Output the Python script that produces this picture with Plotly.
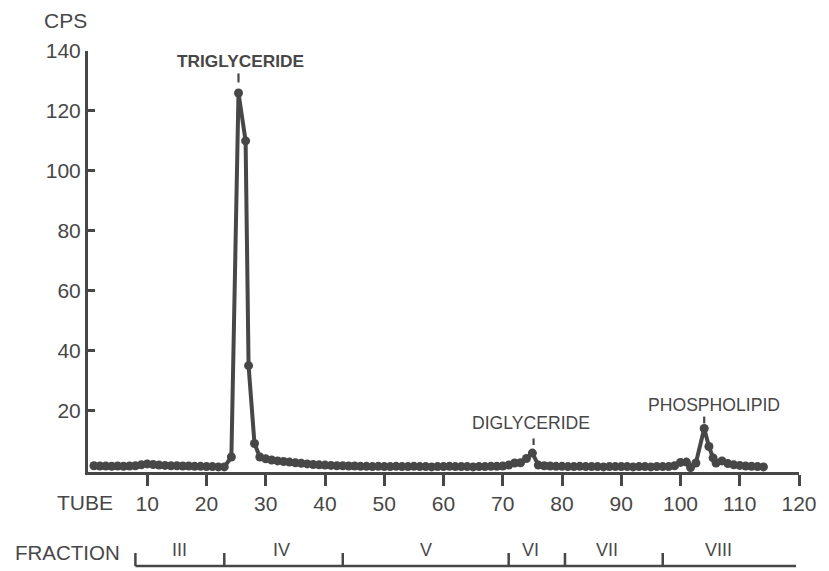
import plotly.graph_objects as go

# Radioactivity (counts per second) of each eluted tube
tube = [1, 2, 3, 4, 5, 6, 7, 8, 9, 10, 11, 12, 13, 14, 15, 16, 17, 18, 19, 20, 21, 22, 23,
        24.2, 25.4, 26.6, 27.1, 28.1,
        29, 30, 31, 32, 33, 34, 35, 36, 37, 38, 39, 40, 41, 42, 43, 44, 45, 46, 47, 48, 49, 50,
        51, 52, 53, 54, 55, 56, 57, 58, 59, 60, 61, 62, 63, 64, 65, 66, 67, 68, 69, 70,
        71, 72, 73, 74, 75, 76, 77, 78, 79, 80, 81, 82, 83, 84, 85, 86, 87, 88, 89, 90,
        91, 92, 93, 94, 95, 96, 97, 98, 99, 100, 101, 101.7, 102.6,
        104, 104.8, 105.5, 106, 107, 108, 109, 110, 111, 112, 113, 114]
cps = [1.6, 1.5, 1.5, 1.4, 1.5, 1.4, 1.5, 1.6, 1.9, 2.2, 2.0, 1.8, 1.7, 1.6, 1.6, 1.5, 1.5, 1.4, 1.4, 1.3, 1.3, 1.2, 1.2,
       4.5, 126, 110, 35, 9,
       4.5, 3.9, 3.5, 3.2, 3.0, 2.8, 2.6, 2.4, 2.2, 2.0, 1.9, 1.8, 1.7, 1.6, 1.6, 1.5, 1.5, 1.4, 1.4, 1.3, 1.4, 1.3,
       1.3, 1.4, 1.3, 1.3, 1.4, 1.3, 1.3, 1.2, 1.3, 1.3, 1.4, 1.3, 1.3, 1.3, 1.2, 1.3, 1.3, 1.4, 1.4, 1.5,
       1.8, 2.5, 2.6, 4.0, 5.8, 1.8, 1.6, 1.5, 1.4, 1.4, 1.3, 1.3, 1.4, 1.3, 1.3, 1.3, 1.2, 1.3, 1.3, 1.3,
       1.3, 1.2, 1.3, 1.3, 1.2, 1.3, 1.3, 1.3, 1.6, 2.7, 2.8, 1.0, 2.5,
       14, 8, 4.2, 2.5, 3.2, 2.3, 1.9, 1.7, 1.5, 1.4, 1.3, 1.2]

x_ticks = [10, 20, 30, 40, 50, 60, 70, 80, 90, 100, 110, 120]
y_ticks = [20, 40, 60, 80, 100, 120, 140]

# Peak labels: text, label centre (tube, cps), pointer mark (tube, cps span)
peak_names = ["TRIGLYCERIDE", "DIGLYCERIDE", "PHOSPHOLIPID"]
peak_label_tube = [25.7, 74.7, 105.7]
peak_label_cps = [136.7, 15.7, 21.7]
peak_mark_tube = [25.4, 75.2, 104.0]
peak_mark_cps = [(129.5, 132.5), (8.5, 10.7), (15.7, 18.0)]

# Column fractions (boundaries in tube numbers)
fraction_bounds = [8, 23, 43, 71, 80.5, 97, 119.5]
fraction_names = ["III", "IV", "V", "VI", "VII", "VIII"]
fraction_label_tube = [15.4, 32.6, 57.0, 74.7, 87.6, 106.4]

INK = "#474747"
FONT = "Liberation Sans"

W, H = 829, 571
L, R, T, B = 88, 26, 51, 99
PW, PH = W - L - R, H - T - B


def px(xp):
    return (xp - L) / PW


def py(yp):
    return (H - B - yp) / PH


fig = go.Figure()
fig.add_trace(go.Scatter(
    x=tube, y=cps, mode="lines+markers",
    line=dict(color=INK, width=4),
    marker=dict(color=INK, size=9),
    hoverinfo="skip", showlegend=False,
))

annotations = []
shapes = []

for name, lx, ly, mx, (m0, m1) in zip(peak_names, peak_label_tube, peak_label_cps,
                                      peak_mark_tube, peak_mark_cps):
    bold = name == "TRIGLYCERIDE"
    annotations.append(dict(
        x=lx, y=ly, xref="x", yref="y", showarrow=False,
        text=f"<b>{name}</b>" if bold else name,
        font=dict(family=FONT, size=17.3 if bold else 17.6, color=INK),
        xanchor="center", yanchor="middle",
    ))
    shapes.append(dict(type="line", xref="x", yref="y", x0=mx, x1=mx, y0=m0, y1=m1,
                       line=dict(color=INK, width=2.2)))

annotations += [
    dict(x=px(65), y=py(21), xref="paper", yref="paper", text="CPS", showarrow=False,
         font=dict(family=FONT, size=21, color=INK), xanchor="center", yanchor="middle"),
    dict(x=px(85), y=py(502), xref="paper", yref="paper", text="TUBE", showarrow=False,
         font=dict(family=FONT, size=21, color=INK), xanchor="center", yanchor="middle"),
    dict(x=px(67), y=py(552), xref="paper", yref="paper", text="FRACTION", showarrow=False,
         font=dict(family=FONT, size=20.5, color=INK), xanchor="center", yanchor="middle"),
]

# Fraction bar below the tube axis
bar_y = py(566)
tick_top = py(553)
shapes.append(dict(type="line", xref="x", yref="paper",
                   x0=fraction_bounds[0], x1=fraction_bounds[-1], y0=bar_y, y1=bar_y,
                   line=dict(color=INK, width=2.5)))
for b in fraction_bounds[:-1]:
    shapes.append(dict(type="line", xref="x", yref="paper", x0=b, x1=b,
                       y0=bar_y, y1=tick_top, line=dict(color=INK, width=2.5)))
for name, lx in zip(fraction_names, fraction_label_tube):
    annotations.append(dict(x=lx, y=py(550), xref="x", yref="paper", text=name,
                            showarrow=False, font=dict(family=FONT, size=18, color=INK),
                            xanchor="center", yanchor="middle"))

fig.update_layout(
    width=W, height=H,
    margin=dict(l=L, r=R, t=T, b=B),
    paper_bgcolor="white", plot_bgcolor="white",
    annotations=annotations, shapes=shapes,
    xaxis=dict(range=[0, 120], tickvals=x_ticks, ticktext=[str(v) for v in x_ticks],
               ticks="outside", ticklen=11, tickwidth=2.5, tickcolor=INK,
               showline=True, linewidth=3, linecolor=INK,
               showgrid=False, zeroline=False,
               tickfont=dict(family=FONT, size=21, color=INK)),
    yaxis=dict(range=[-0.5, 140], tickvals=y_ticks, ticktext=[str(v) for v in y_ticks],
               ticks="inside", ticklen=7, tickwidth=2.5, tickcolor=INK,
               showline=True, linewidth=3, linecolor=INK,
               showgrid=False, zeroline=False,
               tickfont=dict(family=FONT, size=21, color=INK)),
)

fig.write_html("out.html")
